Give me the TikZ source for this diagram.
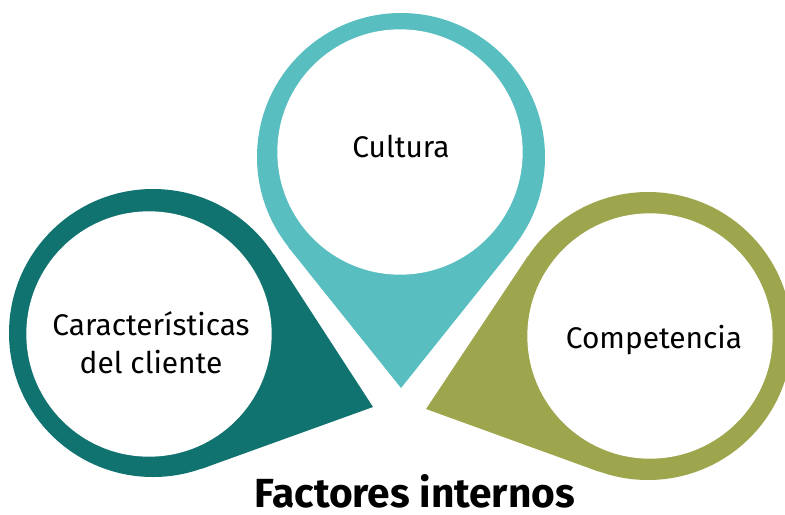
\documentclass[tikz,border=0pt]{standalone}
\usepackage{fontspec}
\setmainfont{Fira Sans}
\usetikzlibrary{calc}
\definecolor{cultura}{RGB}{88,190,192}
\definecolor{cliente}{RGB}{17,115,112}
\definecolor{competencia}{RGB}{157,166,77}
\begin{document}
\begin{tikzpicture}[x=0.75pt,y=-0.75pt,
  ring node/.style={circle,fill=#1,minimum size=216pt,inner sep=0pt},
  face node/.style={circle,fill=white,minimum size=184pt,inner sep=0pt},
  label text/.style={inner sep=0pt,align=center,font=\fontsize{22.4}{28.5}\selectfont}]
\useasboundingbox (0,0) rectangle (785,514);
% centre pin
\node[ring node=cultura] (r1) at (401,157) {};
\coordinate (t1) at (401,388);
\fill[cultura] (t1) -- (tangent cs:node=r1,point={(t1)},solution=1) -- (tangent cs:node=r1,point={(t1)},solution=2) -- cycle;
\node[face node] (f1) at (400,152) {};
\node[label text,anchor=base] (l1) at (401,157) {Cultura};
% left pin
\node[ring node=cliente] (r2) at (153,333) {};
\coordinate (t2) at (373,407);
\fill[cliente] (t2) -- (tangent cs:node=r2,point={(t2)},solution=1) -- (tangent cs:node=r2,point={(t2)},solution=2) -- cycle;
\node[face node] (f2) at (149,334) {};
\node[label text] (l2) at (151,343) {Características\\del cliente};
% right pin
\node[ring node=competencia] (r3) at (648,336) {};
\coordinate (t3) at (426,409);
\fill[competencia] (t3) -- (tangent cs:node=r3,point={(t3)},solution=1) -- (tangent cs:node=r3,point={(t3)},solution=2) -- cycle;
\node[face node] (f3) at (650,336) {};
\node[label text,anchor=base] (l3) at (654,348) {Competencia};
% title
\node[inner sep=0pt,anchor=base,font=\bfseries\fontsize{30.5}{34}\selectfont] (titulo) at (415,507) {Factores internos};
\end{tikzpicture}
\end{document}
